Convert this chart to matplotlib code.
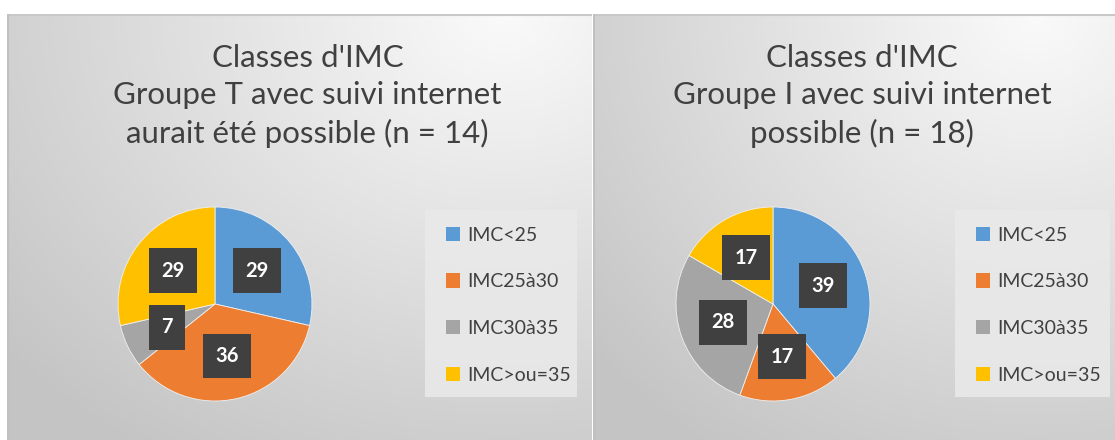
import numpy as np
import matplotlib.pyplot as plt
from matplotlib.patches import Rectangle, Patch

# data
categories = ['IMC<25', 'IMC25à30', 'IMC30à35', 'IMC>ou=35']
colors = ['#5b9bd5', '#ed7d31', '#a5a5a5', '#ffc000']

title_t = "Classes d'IMC\nGroupe T avec suivi internet\naurait été possible (n = 14)"
counts_t = [4, 5, 1, 4]
labels_t = ['29', '36', '7', '29']

title_i = "Classes d'IMC\nGroupe I avec suivi internet\npossible (n = 18)"
counts_i = [7, 3, 5, 3]
labels_i = ['39', '17', '28', '17']

W, H = 1115, 440
fig = plt.figure(figsize=(W / 100, H / 100), dpi=100)
fig.patch.set_facecolor('white')
plt.rcParams['font.family'] = ['Lato', 'DejaVu Sans']


def fx(px):
    return px / W


def fy(py):
    return 1 - py / H


def panel(x0, x1, title, counts, labels, pie_cx, legend_x0, legend_x1):
    # gradient background
    bg = fig.add_axes([fx(x0), 0, fx(x1 - x0), fy(14)])
    bg.set_axis_off()
    nx, ny = 200, 120
    xx, yy = np.meshgrid(np.linspace(0, 1, nx), np.linspace(0, 1, ny))
    d = np.sqrt(((xx - 0.85) * 1.1) ** 2 + (yy - 0.0) ** 2)
    v = np.clip(0.98 - 0.17 * d, 0.77, 0.98)
    img = np.dstack([v, v, v])
    bg.imshow(img, aspect='auto', extent=[0, 1, 1, 0], interpolation='bilinear')
    bg.set_xlim(0, 1)
    bg.set_ylim(1, 0)
    bg.plot([0, 1], [0.002, 0.002], color='#c8c8c8', lw=1.5)
    bg.plot([0.0015, 0.0015], [0, 1], color='#c0c0c0', lw=1.5)

    # title
    cx = (x0 + x1) / 2 + 8
    fig.text(fx(cx), fy(44), title, ha='center', va='top', fontsize=22.5,
             color='#404040', linespacing=1.4)

    # pie
    r = 97
    ax = fig.add_axes([fx(pie_cx - r), fy(304 + r), fx(2 * r), (2 * r) / H])
    wedges, _ = ax.pie(counts, colors=colors, startangle=90, counterclock=False,
                       radius=1.0, wedgeprops=dict(linewidth=0.6, edgecolor='#f0f0f0'))
    ax.set_xlim(-1, 1)
    ax.set_ylim(-1, 1)
    ax.set_aspect('equal')
    for w, lab in zip(wedges, labels):
        ang = np.deg2rad((w.theta1 + w.theta2) / 2)
        ax.text(0.55 * np.cos(ang), 0.55 * np.sin(ang), lab, ha='center', va='center',
                fontsize=14.5, fontweight='bold', color='white',
                bbox=dict(boxstyle='square,pad=0.62', fc='#404040', ec='none'))

    # legend box
    fig.patches.append(Rectangle((fx(legend_x0), fy(397)), fx(legend_x1 - legend_x0),
                                 187 / H, transform=fig.transFigure,
                                 fc='#e9e9e9', ec='none', alpha=0.9))
    handles = [Patch(fc=c, ec='none') for c in colors]
    fig.legend(handles, categories, loc='upper left',
               bbox_to_anchor=(fx(legend_x0 + 3), fy(209)), frameon=False,
               fontsize=14, labelcolor='#404040', handlelength=0.75,
               handleheight=0.75, handletextpad=0.35, labelspacing=1.53)


panel(7, 592, title_t, counts_t, labels_t, 215, 425, 577)
panel(593, 1115, title_i, counts_i, labels_i, 773, 955, 1110)

plt.savefig('out.png', dpi=100)
